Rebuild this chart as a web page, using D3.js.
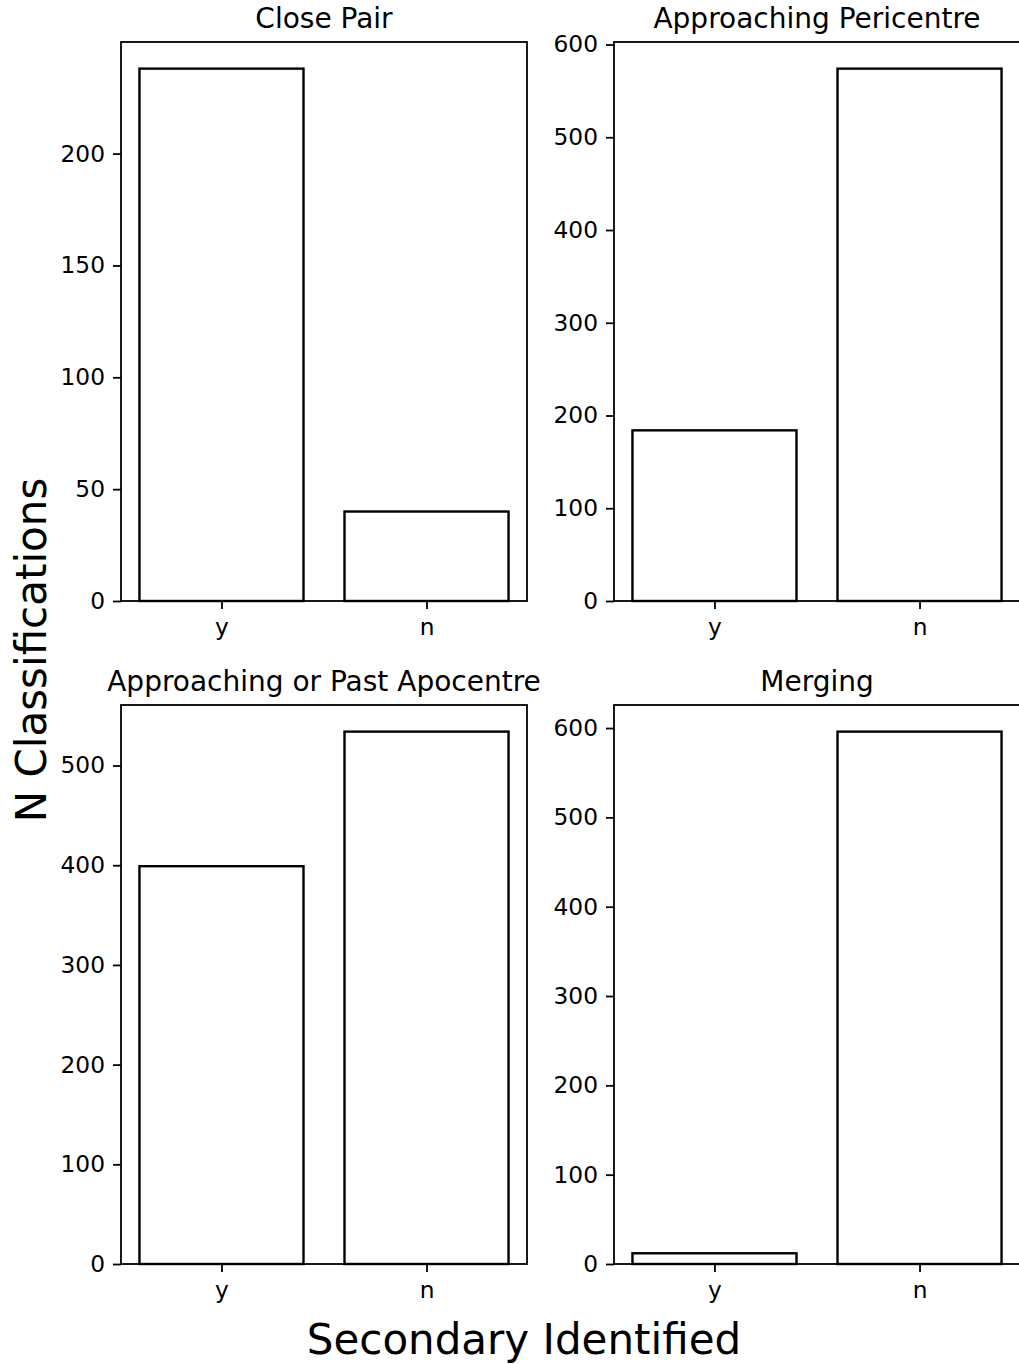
<!DOCTYPE html>
<html>
<head>
<meta charset="utf-8">
<script src="https://cdn.jsdelivr.net/npm/d3@7"></script>
<style>
  html, body { margin: 0; padding: 0; background: #fff; }
  svg { display: block; }
  text { font-family: "DejaVu Sans", sans-serif; fill: #000; }
</style>
</head>
<body>
<svg id="chart" width="1019" height="1364"></svg>
<script>
// Classification counts per merger stage, split by whether a secondary was identified
const categories = ["y", "n"];
const panelTitles = ["Close Pair", "Approaching Pericentre", "Approaching or Past Apocentre", "Merging"];
const closePair = [238, 40];
const approachingPericentre = [184, 574];
const approachingApocentre = [399, 534];
const merging = [12, 596];
const yTicksClosePair = [0, 50, 100, 150, 200];
const yTicksPericentre = [0, 100, 200, 300, 400, 500, 600];
const yTicksApocentre = [0, 100, 200, 300, 400, 500];
const yTicksMerging = [0, 100, 200, 300, 400, 500, 600];
const xLabel = "Secondary Identified";
const yLabel = "N Classifications";

const panels = [
  { title: panelTitles[0], values: closePair, ticks: yTicksClosePair, x0: 121, y0: 42 },
  { title: panelTitles[1], values: approachingPericentre, ticks: yTicksPericentre, x0: 614, y0: 42 },
  { title: panelTitles[2], values: approachingApocentre, ticks: yTicksApocentre, x0: 121, y0: 705 },
  { title: panelTitles[3], values: merging, ticks: yTicksMerging, x0: 614, y0: 705 }
];

const W = 406, H = 559;
const barWidth = 0.8;
const tickFont = 23.3, titleFont = 28, labelFont = 42;

const svg = d3.select("#chart");

panels.forEach(p => {
  const g = svg.append("g").attr("transform", `translate(${p.x0},${p.y0})`);
  const n = categories.length;
  const pad = 0.05 * (n - 1 + barWidth);
  const x = d3.scaleLinear()
    .domain([-barWidth / 2 - pad, n - 1 + barWidth / 2 + pad])
    .range([0, W]);
  const yMax = d3.max(p.values) * 1.05;
  const y = d3.scaleLinear().domain([0, yMax]).range([H, 0]);

  // bars
  g.selectAll("rect.bar")
    .data(p.values)
    .join("rect")
    .attr("class", "bar")
    .attr("x", (d, i) => x(i - barWidth / 2))
    .attr("width", (d, i) => x(i + barWidth / 2) - x(i - barWidth / 2))
    .attr("y", d => y(d))
    .attr("height", d => y(0) - y(d))
    .attr("fill", "#fff")
    .attr("stroke", "#000")
    .attr("stroke-width", 2.4);

  // frame
  g.append("rect")
    .attr("x", 0).attr("y", 0).attr("width", W).attr("height", H)
    .attr("fill", "none").attr("stroke", "#000").attr("stroke-width", 1.8);

  // y axis
  const ya = g.append("g")
    .call(d3.axisLeft(y).tickValues(p.ticks).tickSize(8).tickPadding(8).tickFormat(d3.format("d")));
  ya.select(".domain").remove();
  ya.selectAll(".tick line").attr("stroke", "#000").attr("stroke-width", 1.8);
  ya.selectAll(".tick text").attr("font-size", tickFont).attr("font-family", "DejaVu Sans");

  // x axis
  const xa = g.append("g")
    .attr("transform", `translate(0,${H})`)
    .call(d3.axisBottom(x).tickValues(d3.range(n)).tickSize(8).tickPadding(9.5).tickFormat(i => categories[i]));
  xa.select(".domain").remove();
  xa.selectAll(".tick line").attr("stroke", "#000").attr("stroke-width", 1.8);
  xa.selectAll(".tick text").attr("font-size", tickFont).attr("font-family", "DejaVu Sans");

  // title
  g.append("text")
    .attr("x", W / 2).attr("y", -14)
    .attr("text-anchor", "middle")
    .attr("font-size", titleFont)
    .text(p.title);
});

// shared axis labels
svg.append("text")
  .attr("x", 524).attr("y", 1354)
  .attr("text-anchor", "middle")
  .attr("font-size", labelFont)
  .text(xLabel);

svg.append("text")
  .attr("transform", "translate(46,650) rotate(-90)")
  .attr("text-anchor", "middle")
  .attr("font-size", labelFont)
  .text(yLabel);
</script>
</body>
</html>
